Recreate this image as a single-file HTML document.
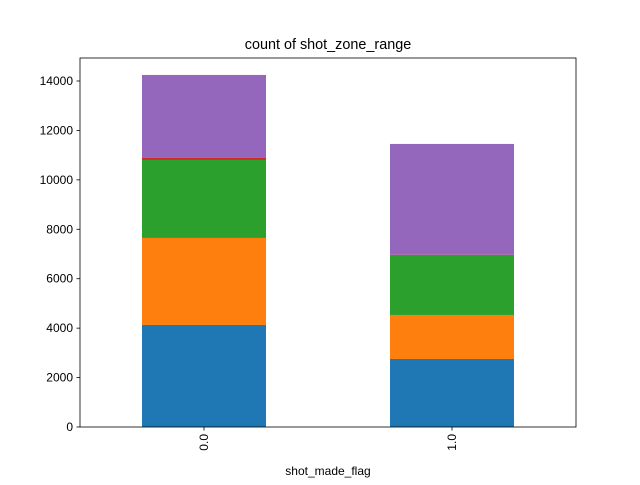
<!DOCTYPE html>
<html><head><meta charset="utf-8"><style>
body{margin:0;background:#fff;}
svg text{font-family:"Liberation Sans","DejaVu Sans",sans-serif;fill:#000;}
</style></head><body>
<svg id="chart" width="640" height="480" xmlns="http://www.w3.org/2000/svg">
<rect width="640" height="480" fill="#fff"/>
<text x="328" y="49" font-size="14.4" text-anchor="middle">count of shot_zone_range</text>
<g id="bars"></g>
<g id="axes"></g>
<text x="328" y="475" font-size="12" text-anchor="middle">shot_made_flag</text>
</svg>
<script>
const categories = ["0.0", "1.0"];
const s0 = [4128, 2752];
const s1 = [3521, 1781];
const s2 = [3156, 2428];
const s3 = [80, 10];
const s4 = [3360, 4482];
const yTicks = [0, 2000, 4000, 6000, 8000, 10000, 12000, 14000];
const series = [s0, s1, s2, s3, s4];
const colors = ["#1f77b4", "#ff7f0e", "#2ca02c", "#d62728", "#9467bd"];
const NS = "http://www.w3.org/2000/svg";
const L = 80, R = 576, T = 58, B = 427;
const yMax = 14000 / (346 / 369);
function y(v){ return B - v / yMax * (B - T); }
function xc(i){ return L + (R - L) * (i + 0.5) / categories.length; }
const bw = 124;
const bars = document.getElementById('bars');
categories.forEach((c, i) => {
  let acc = 0;
  series.forEach((s, k) => {
    const r = document.createElementNS(NS, 'rect');
    
    
    r.setAttribute('x', xc(i) - bw / 2);
    r.setAttribute('width', bw);
    r.setAttribute('y', y(acc + s[i]));
    r.setAttribute('height', y(acc) - y(acc + s[i]));
    r.setAttribute('fill', colors[k]);
    bars.appendChild(r);
    acc += s[i];
  });
});
const ax = document.getElementById('axes');
const frame = document.createElementNS(NS, 'rect');


frame.setAttribute('x', L); frame.setAttribute('y', T);
frame.setAttribute('width', R - L); frame.setAttribute('height', B - T);
frame.setAttribute('fill', 'none'); frame.setAttribute('stroke', '#000'); frame.setAttribute('stroke-width', '0.8');
ax.appendChild(frame);
yTicks.forEach(v => {
  const ln = document.createElementNS(NS, 'line');
  
  
  ln.setAttribute('x1', L - 3.5); ln.setAttribute('x2', L);
  ln.setAttribute('y1', y(v)); ln.setAttribute('y2', y(v));
  ln.setAttribute('stroke', '#000'); ln.setAttribute('stroke-width', '0.8');
  ax.appendChild(ln);
  const t = document.createElementNS(NS, 'text');
  
  
  t.setAttribute('x', L - 7); t.setAttribute('y', y(v) + 4);
  t.setAttribute('font-size', '12'); t.setAttribute('text-anchor', 'end');
  t.textContent = v;
  ax.appendChild(t);
});
categories.forEach((c, i) => {
  const ln = document.createElementNS(NS, 'line');
  
  
  ln.setAttribute('x1', xc(i)); ln.setAttribute('x2', xc(i));
  ln.setAttribute('y1', B); ln.setAttribute('y2', B + 3.5);
  ln.setAttribute('stroke', '#000'); ln.setAttribute('stroke-width', '0.8');
  ax.appendChild(ln);
  const t = document.createElementNS(NS, 'text');
  
  
  t.setAttribute('font-size', '12'); t.setAttribute('text-anchor', 'end');
  t.setAttribute('transform', 'translate(' + (xc(i) + 4) + ',' + (B + 7) + ') rotate(-90)');
  t.textContent = c;
  ax.appendChild(t);
});
</script>
</body></html>
